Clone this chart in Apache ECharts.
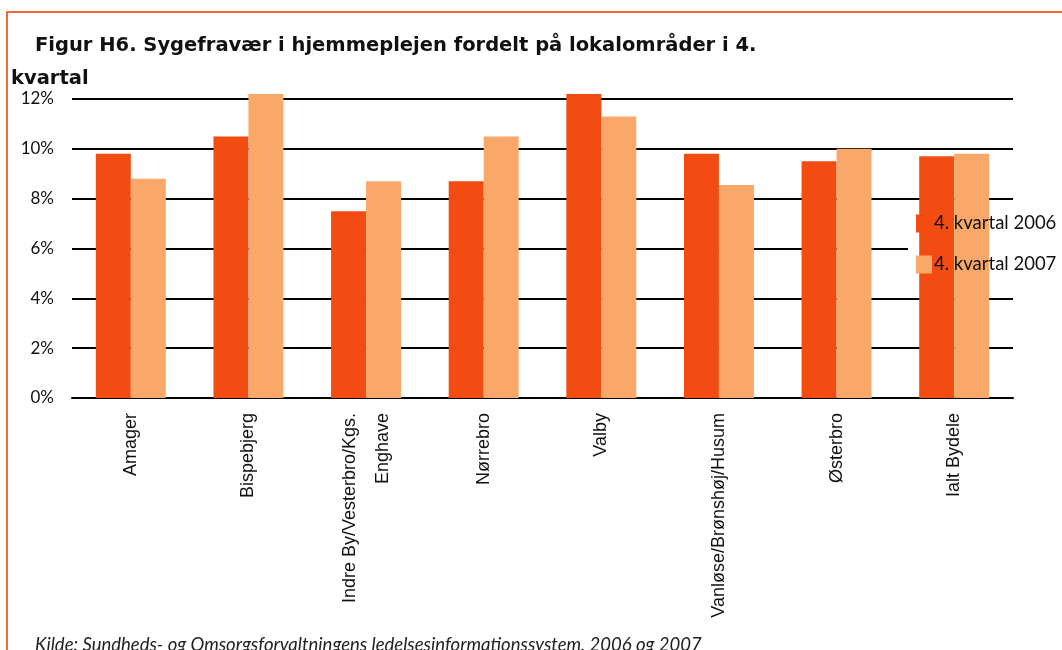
<!DOCTYPE html>
<html>
<head>
<meta charset="utf-8">
<script src="https://cdn.jsdelivr.net/npm/echarts@6/dist/echarts.min.js"></script>
<style>
  html, body { margin: 0; padding: 0; background: #fff; }
  #chart { width: 1062px; height: 650px; }
</style>
</head>
<body>
<div id="chart"></div>
<script>
// lokalområder
const categories = [
    'Amager',
    'Bispebjerg',
    'Indre By/Vesterbro/Kgs.\nEnghave',
    'Nørrebro',
    'Valby',
    'Vanløse/Brønshøj/Husum',
    'Østerbro',
    'Ialt Bydele'
];
const seriesNames = ['4. kvartal 2006', '4. kvartal 2007'];
// sygefravær i procent
const q4_2006 = [9.8, 10.5, 7.5, 8.7, 12.2, 9.8, 9.5, 9.7];
const q4_2007 = [8.8, 12.2, 8.7, 10.5, 11.3, 8.55, 10.0, 9.8];
const yTicks = [0, 2, 4, 6, 8, 10, 12];

const colors = ['#F24C12', '#F9A86A'];
const font = 'Lato, "Open Sans", sans-serif';

var chartDom = document.getElementById('chart');
var myChart = echarts.init(chartDom, null, {renderer: 'canvas'});

var option = {
    animation: false,
    backgroundColor: '#fff',
    graphic: [
        {
            // orange ramme
            type: 'rect',
            shape: {x: 7, y: 12, width: 1080, height: 700},
            style: {fill: 'none', stroke: '#F26A3A', lineWidth: 2},
            z: 0
        },
        {
            // hvid plet bag legenden (skjuler 6%-linjen)
            type: 'rect',
            shape: {x: 908, y: 242, width: 110, height: 12},
            style: {fill: '#fff'},
            z: 1
        },
        {
            type: 'text',
            left: 35,
            top: 36,
            style: {
                text: 'Figur H6. Sygefravær i hjemmeplejen fordelt på lokalområder i 4.',
                font: 'bold 19.5px "DejaVu Sans", sans-serif',
                fill: '#111'
            }
        },
        {
            type: 'text',
            left: 11,
            top: 69,
            style: {
                text: 'kvartal',
                font: 'bold 19.5px "DejaVu Sans", sans-serif',
                fill: '#111'
            }
        },
        {
            type: 'text',
            left: 35,
            top: 636,
            style: {
                text: 'Kilde: Sundheds- og Omsorgsforvaltningens ledelsesinformationssystem, 2006 og 2007',
                font: 'italic 18.5px ' + font,
                fill: '#222'
            }
        }
    ],
    legend: {
        data: seriesNames,
        orient: 'vertical',
        left: 916,
        top: 214,
        icon: 'rect',
        itemWidth: 16,
        itemHeight: 18,
        itemGap: 22,
        padding: 0,
        z: 10,
        textStyle: {fontFamily: font, fontSize: 18.5, color: '#111', padding: [0, 0, 0, -3]}
    },
    grid: {
        left: 72,
        right: 49,
        top: 99,
        bottom: 252
    },
    xAxis: {
        type: 'category',
        data: categories,
        axisTick: {show: false},
        axisLine: {lineStyle: {color: '#000', width: 2}},
        axisLabel: {
            rotate: 90,
            interval: 0,
            margin: 15,
            fontFamily: '"Liberation Sans", Arial, sans-serif',
            fontSize: 18,
            color: '#111',
            lineHeight: 33
        }
    },
    yAxis: {
        type: 'value',
        min: 0,
        max: 12,
        interval: 2,
        axisLine: {show: false},
        axisTick: {show: false},
        axisLabel: {
            formatter: v => yTicks.includes(v) ? v + '%' : '',
            fontFamily: font,
            fontSize: 17,
            color: '#111',
            margin: 18
        },
        splitLine: {lineStyle: {color: '#000', width: 2}}
    },
    series: [
        {
            name: seriesNames[0],
            type: 'bar',
            data: q4_2006,
            barGap: 0,
            barWidth: 35,
            clip: false,
            itemStyle: {color: colors[0]},
            z: 3
        },
        {
            name: seriesNames[1],
            type: 'bar',
            data: q4_2007,
            barGap: 0,
            barWidth: 35,
            clip: false,
            itemStyle: {color: colors[1]},
            z: 3
        }
    ]
};

option && myChart.setOption(option);
</script>
</body>
</html>
